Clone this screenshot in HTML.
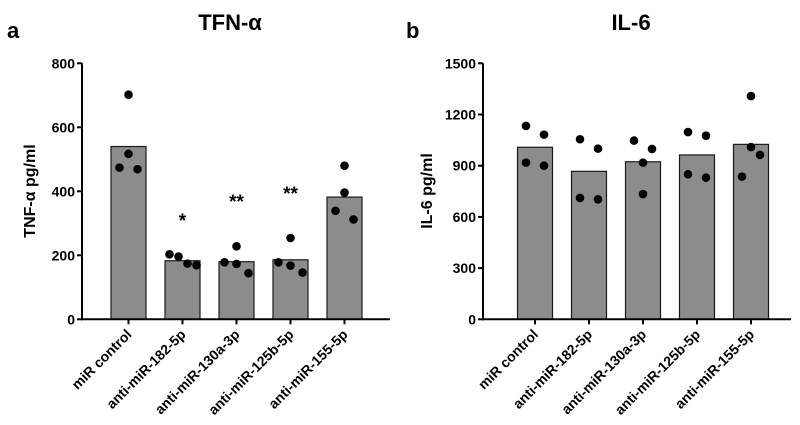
<!DOCTYPE html>
<html><head><meta charset="utf-8"><style>
html,body{margin:0;padding:0;background:#fff;width:800px;height:425px;overflow:hidden}
svg{display:block;font-family:"Liberation Sans",sans-serif}
</style></head><body>
<svg id="c" width="800" height="425" viewBox="0 0 800 425"></svg>
<script>
const categories = ["miR control","anti-miR-182-5p","anti-miR-130a-3p","anti-miR-125b-5p","anti-miR-155-5p"];
const tnfBars = [540,183,180,186,382];
const tnfPoints = [[702,517,474,469],[203,196,174,169],[178,228,173,144],[178,254,168,146],[339,480,396,312]];
const tnfJitter = [[0,0,-9,9],[-13,-4,5,14],[-12,0,0,12],[-12,0,0,12],[-9,0,0,9]];
const tnfStars = ["","*","**","**",""];
const tnfStarY = [0,310,370,395,0];
const tnfTicks = [0,200,400,600,800];
const il6Bars = [1008,867,923,963,1025];
const il6Points = [[1133,1082,918,900],[1055,1000,711,703],[1047,998,918,734],[1097,1076,850,830],[1308,1009,963,836]];
const il6Jitter = [[-9,9,-9,9],[-9,9,-9,9],[-9,9,0,0],[-9,9,-9,9],[0,0,9,-9]];
const il6Ticks = [0,300,600,900,1200,1500];

const NS="http://www.w3.org/2000/svg", svg=document.getElementById('c');
function mk(tag,attrs,parent,text){const e=document.createElementNS(NS,tag);for(const k in attrs)e.setAttribute(k,attrs[k]);if(text!==undefined)e.textContent=text;(parent||svg).appendChild(e);return e;}

function panel(o){
  const g=mk('g',{});
  
  
  const y0=319.3,y1=63.3,ax=o.ax;
  const y=v=>y0-(v/o.max)*(y0-y1);
  const x=i=>o.x0+i*54;
  const t=mk('text',{x:o.titleX,y:30,'text-anchor':'middle','font-size':22,'font-weight':'bold',fill:'#000'},g,o.title);
  
  
  const l=mk('text',{x:o.letterX,y:38,'font-size':22,'font-weight':'bold',fill:'#000'},g,o.letter);
  
  
  const yt=mk('text',{x:0,y:0,transform:`translate(${o.ytX},191) rotate(-90)`,'text-anchor':'middle','font-size':16,'font-weight':'bold',fill:'#000'},g,o.ytitle);
  
  
  o.bars.forEach((v,i)=>{
    const r=mk('rect',{x:x(i)-17.5,y:y(v),width:35,height:y0-y(v),fill:'#8c8c8c',stroke:'#1a1a1a','stroke-width':1.2},g);
    
    
  });
  const ya=mk('line',{x1:ax,y1:y1,x2:ax,y2:y0+1,stroke:'#000','stroke-width':2},g);
  
  
  const xa=mk('line',{x1:ax-1,y1:y0,x2:ax+308,y2:y0,stroke:'#000','stroke-width':2},g);
  
  
  o.ticks.forEach(v=>{
    mk('line',{x1:ax-5,y1:y(v),x2:ax,y2:y(v),stroke:'#000','stroke-width':2},g);
    const tl=mk('text',{x:ax-7,y:y(v)+5,'text-anchor':'end','font-size':14,'font-weight':'bold',fill:'#000'},g,String(v));
    
    
  });
  categories.forEach((c,i)=>{
    mk('line',{x1:x(i),y1:y0,x2:x(i),y2:y0+5,stroke:'#000','stroke-width':2},g);
    const xl=mk('text',{x:0,y:0,transform:`translate(${x(i)+4},${y0+16}) rotate(-45)`,'text-anchor':'end','font-size':14,'font-weight':'bold',fill:'#000'},g,c);
    
    
  });
  o.points.forEach((arr,i)=>arr.forEach((v,j)=>{
    const p=mk('circle',{cx:x(i)+o.jitter[i][j],cy:y(v),r:4.3,fill:'#000'},g);
    
    
  }));
  if(o.stars)o.stars.forEach((s,i)=>{
    if(!s)return;
    const st=mk('text',{x:x(i),y:y(o.starY[i])+7,'text-anchor':'middle','font-size':19,'font-weight':'bold',fill:'#000'},g,s);
    
    
  });
}
panel({name:'tnf-alpha-chart',ax:82,x0:128.5,max:800,ticks:tnfTicks,bars:tnfBars,points:tnfPoints,jitter:tnfJitter,stars:tnfStars,starY:tnfStarY,title:'TFN-α',titleX:230,letter:'a',letterX:7,ytitle:'TNF-α pg/ml',ytX:35});
panel({name:'il6-chart',ax:483,x0:535,max:1500,ticks:il6Ticks,bars:il6Bars,points:il6Points,jitter:il6Jitter,title:'IL-6',titleX:631,letter:'b',letterX:406,ytitle:'IL-6 pg/ml',ytX:432});
</script>
</body></html>
